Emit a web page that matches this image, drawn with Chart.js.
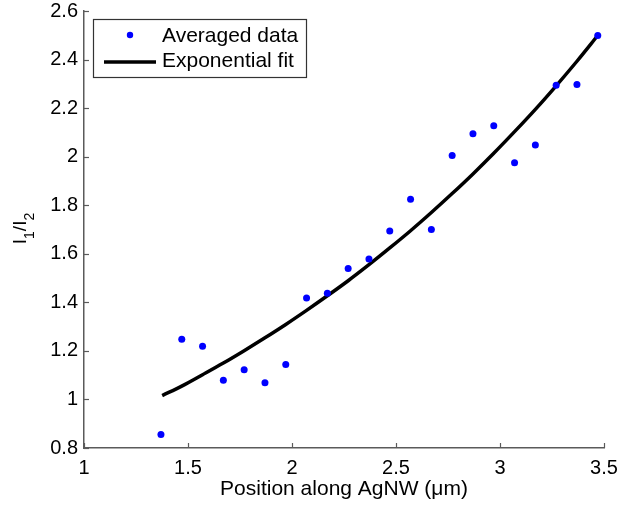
<!DOCTYPE html>
<html>
<head>
<meta charset="utf-8">
<script src="https://cdn.jsdelivr.net/npm/chart.js@4/dist/chart.umd.min.js"></script>
<style>
  html, body { margin: 0; padding: 0; background: #fff; }
  #wrap { width: 621px; height: 510px; position: relative; }
</style>
</head>
<body>
<div id="wrap"><canvas id="c" width="621" height="510"></canvas></div>
<script>
// ---- data ----
const positions = [1.37, 1.47, 1.57, 1.67, 1.77, 1.87, 1.97, 2.07, 2.17, 2.27, 2.37,
                   2.47, 2.57, 2.67, 2.77, 2.87, 2.97, 3.07, 3.17, 3.27, 3.37, 3.47];
const averagedData = [0.856, 1.248, 1.219, 1.079, 1.122, 1.069, 1.144, 1.418, 1.437, 1.539, 1.578,
                      1.694, 1.825, 1.700, 2.005, 2.094, 2.127, 1.975, 2.048, 2.294, 2.297, 2.499];
const fitPositions = [1.376, 1.47, 1.57, 1.67, 1.77, 1.87, 1.97, 2.07, 2.17, 2.27, 2.37,
                      2.47, 2.57, 2.67, 2.77, 2.87, 2.97, 3.07, 3.17, 3.27, 3.37, 3.47];
const fitValues = [1.016, 1.055, 1.102, 1.150, 1.201, 1.254, 1.309, 1.367, 1.427, 1.489, 1.555,
                   1.624, 1.695, 1.770, 1.848, 1.929, 2.014, 2.103, 2.195, 2.292, 2.393, 2.499];
const xTicks = [1, 1.5, 2, 2.5, 3, 3.5];
const yTicks = [0.8, 1, 1.2, 1.4, 1.6, 1.8, 2, 2.2, 2.4, 2.6];
const seriesNames = ['Averaged data', 'Exponential fit'];
const xTitle = 'Position along AgNW (\u03BCm)';

const FONT = '"Liberation Sans", Arial, sans-serif';
const AXIS_COLOR = '#5a5a5a';

// inward tick marks
const tickPlugin = {
  id: 'inTicks',
  afterDraw(chart) {
    const ctx = chart.ctx, a = chart.chartArea;
    ctx.save();
    ctx.strokeStyle = AXIS_COLOR;
    ctx.lineWidth = 1.2;
    const xs = chart.scales.x, ys = chart.scales.y;
    xs.ticks.forEach(t => {
      const px = Math.round(xs.getPixelForValue(t.value)) + 0.5;
      ctx.beginPath(); ctx.moveTo(px, a.bottom); ctx.lineTo(px, a.bottom - 5); ctx.stroke();
    });
    ys.ticks.forEach(t => {
      const py = Math.round(ys.getPixelForValue(t.value)) + 0.5;
      ctx.beginPath(); ctx.moveTo(a.left, py); ctx.lineTo(a.left + 5, py); ctx.stroke();
    });
    ctx.restore();
  }
};

// y-axis title with subscripts: I1/I2
const yTitlePlugin = {
  id: 'yTitle',
  afterDraw(chart) {
    const ctx = chart.ctx, a = chart.chartArea;
    const parts = [['I', false], ['1', true], ['/', false], ['I', false], ['2', true]];
    const big = '19px ' + FONT, small = '14px ' + FONT;
    ctx.save();
    let total = 0;
    parts.forEach(p => { ctx.font = p[1] ? small : big; total += ctx.measureText(p[0]).width; });
    ctx.translate(26, (a.top + a.bottom) / 2 - 1);
    ctx.rotate(-Math.PI / 2);
    ctx.fillStyle = '#000';
    ctx.textBaseline = 'alphabetic';
    let x = -total / 2;
    parts.forEach(p => {
      ctx.font = p[1] ? small : big;
      ctx.fillText(p[0], x, p[1] ? 8 : 0);
      x += ctx.measureText(p[0]).width;
    });
    ctx.restore();
  }
};

// boxed legend in the upper-left of the plot
const legendPlugin = {
  id: 'boxLegend',
  afterDraw(chart) {
    const ctx = chart.ctx, a = chart.chartArea;
    const x0 = a.left + 9, y0 = a.top + 8, w = 213, h = 58;
    ctx.save();
    ctx.fillStyle = '#fff';
    ctx.fillRect(x0, y0, w, h);
    ctx.strokeStyle = '#333';
    ctx.lineWidth = 1.2;
    ctx.strokeRect(x0 + 0.5, y0 + 0.5, w, h);
    const ds = chart.data.datasets;
    ctx.fillStyle = ds[0].backgroundColor;
    ctx.beginPath(); ctx.arc(x0 + 37, y0 + 16, 3.2, 0, Math.PI * 2); ctx.fill();
    ctx.strokeStyle = ds[1].borderColor;
    ctx.lineWidth = 3.5;
    ctx.beginPath(); ctx.moveTo(x0 + 11, y0 + 43); ctx.lineTo(x0 + 63, y0 + 43); ctx.stroke();
    ctx.fillStyle = '#000';
    ctx.font = '21px ' + FONT;
    ctx.textBaseline = 'middle';
    ctx.fillText(ds[0].label, x0 + 69, y0 + 17);
    ctx.fillText(ds[1].label, x0 + 69, y0 + 42);
    ctx.restore();
  }
};

const scatterPts = positions.map((x, i) => ({ x: x, y: averagedData[i] }));
const fitPts = fitPositions.map((x, i) => ({ x: x, y: fitValues[i] }));

new Chart(document.getElementById('c'), {
  type: 'scatter',
  data: {
    datasets: [
      {
        label: seriesNames[0],
        data: scatterPts,
        backgroundColor: '#0000ff',
        borderColor: '#0000ff',
        pointRadius: 3.5,
        pointBorderWidth: 0,
        showLine: false,
        order: 1
      },
      {
        label: seriesNames[1],
        data: fitPts,
        borderColor: '#000000',
        backgroundColor: '#000000',
        borderWidth: 3.5,
        pointRadius: 0,
        showLine: true,
        tension: 0.4,
        cubicInterpolationMode: 'monotone',
        order: 2
      }
    ]
  },
  options: {
    responsive: false,
    animation: false,
    devicePixelRatio: 1,
    layout: { padding: { left: 0, right: 17, top: 11, bottom: 0 } },
    plugins: {
      legend: { display: false },
      tooltip: { enabled: false }
    },
    scales: {
      x: {
        type: 'linear',
        min: 1, max: 3.5,
        afterBuildTicks: s => { s.ticks = xTicks.map(v => ({ value: v })); },
        afterFit: s => { s.height = 62; s.paddingLeft = 0; s.paddingRight = 0; },
        grid: { display: false, drawTicks: false },
        border: { display: true, color: AXIS_COLOR, width: 1.5 },
        ticks: {
          color: '#000', padding: 8,
          font: { family: FONT, size: 20 },
          maxRotation: 0,
          callback: v => String(Number(v.toFixed(1)))
        },
        title: {
          display: true, text: xTitle, color: '#000',
          font: { family: FONT, size: 21 },
          padding: { top: 0, bottom: 8 }
        }
      },
      y: {
        type: 'linear',
        min: 0.8, max: 2.6,
        afterBuildTicks: s => { s.ticks = yTicks.map(v => ({ value: v })); },
        afterFit: s => { s.width = 84; s.paddingTop = 0; s.paddingBottom = 0; },
        grid: { display: false, drawTicks: false },
        border: { display: true, color: AXIS_COLOR, width: 1.5 },
        ticks: {
          color: '#000', padding: 6,
          font: { family: FONT, size: 20 },
          callback: v => String(Number(v.toFixed(1)))
        }
      }
    }
  },
  plugins: [tickPlugin, yTitlePlugin, legendPlugin]
});
</script>
</body>
</html>
